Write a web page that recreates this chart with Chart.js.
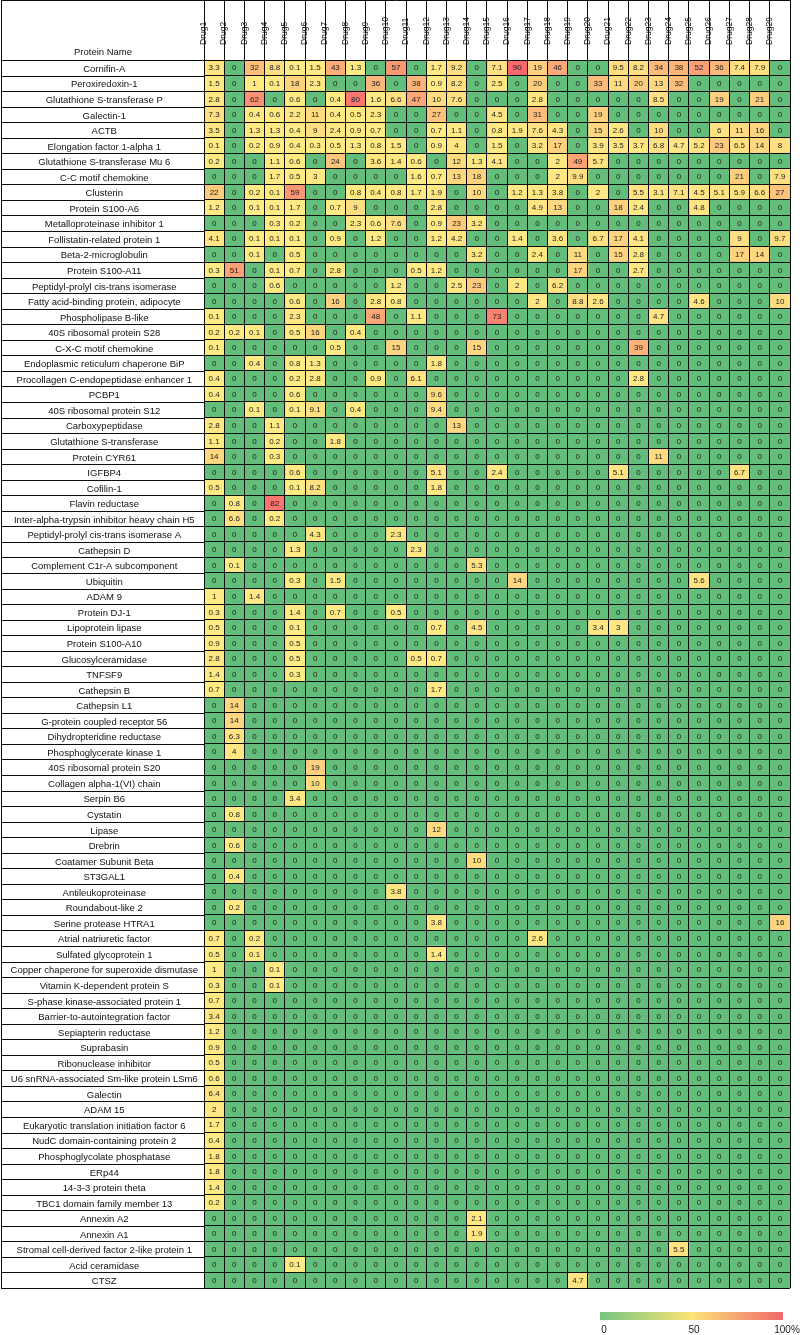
<!DOCTYPE html>
<html>
<head>
<meta charset="utf-8">
<script src="https://cdn.jsdelivr.net/npm/chart.js"></script>
<style>
  html, body { margin: 0; padding: 0; background: #fff; }
</style>
</head>
<body>
<canvas id="heatmap" width="800" height="1335"></canvas>
<script>
const proteins = [
  'Cornifin-A', 'Peroxiredoxin-1', 'Glutathione S-transferase P', 'Galectin-1', 'ACTB',
  'Elongation factor 1-alpha 1', 'Glutathione S-transferase Mu 6', 'C-C motif chemokine', 'Clusterin',
  'Protein S100-A6', 'Metalloproteinase inhibitor 1', 'Follistatin-related protein 1', 'Beta-2-microglobulin',
  'Protein S100-A11', 'Peptidyl-prolyl cis-trans isomerase', 'Fatty acid-binding protein, adipocyte',
  'Phospholipase B-like', '40S ribosomal protein S28', 'C-X-C motif chemokine',
  'Endoplasmic reticulum chaperone BiP', 'Procollagen C-endopeptidase enhancer 1', 'PCBP1',
  '40S ribosomal protein S12', 'Carboxypeptidase', 'Glutathione S-transferase', 'Protein CYR61', 'IGFBP4',
  'Cofilin-1', 'Flavin reductase', 'Inter-alpha-trypsin inhibitor heavy chain H5',
  'Peptidyl-prolyl cis-trans isomerase A', 'Cathepsin D', 'Complement C1r-A subcomponent', 'Ubiquitin',
  'ADAM 9', 'Protein DJ-1', 'Lipoprotein lipase', 'Protein S100-A10', 'Glucosylceramidase', 'TNFSF9',
  'Cathepsin B', 'Cathepsin L1', 'G-protein coupled receptor 56', 'Dihydropteridine reductase',
  'Phosphoglycerate kinase 1', '40S ribosomal protein S20', 'Collagen alpha-1(VI) chain', 'Serpin B6',
  'Cystatin', 'Lipase', 'Drebrin', 'Coatamer Subunit Beta', 'ST3GAL1', 'Antileukoproteinase',
  'Roundabout-like 2', 'Serine protease HTRA1', 'Atrial natriuretic factor', 'Sulfated glycoprotein 1',
  'Copper chaperone for superoxide dismutase', 'Vitamin K-dependent protein S',
  'S-phase kinase-associated protein 1', 'Barrier-to-autointegration factor', 'Sepiapterin reductase',
  'Suprabasin', 'Ribonuclease inhibitor', 'U6 snRNA-associated Sm-like protein LSm6', 'Galectin', 'ADAM 15',
  'Eukaryotic translation initiation factor 6', 'NudC domain-containing protein 2',
  'Phosphoglycolate phosphatase', 'ERp44', '14-3-3 protein theta', 'TBC1 domain family member 13',
  'Annexin A2', 'Annexin A1', 'Stromal cell-derived factor 2-like protein 1', 'Acid ceramidase', 'CTSZ'
];

const drugs = [
  'Drug1', 'Drug2', 'Drug3', 'Drug4', 'Drug5', 'Drug6', 'Drug7', 'Drug8', 'Drug9', 'Drug10',
  'Drug11', 'Drug12', 'Drug13', 'Drug14', 'Drug15', 'Drug16', 'Drug17', 'Drug18', 'Drug19', 'Drug20',
  'Drug21', 'Drug22', 'Drug23', 'Drug24', 'Drug25', 'Drug26', 'Drug27', 'Drug28', 'Drug29'
];

// one row per protein, one value per drug (Drug1..Drug29)
const abundance = [
  [3.3,0,32,8.8,0.1,1.5,43,1.3,0,57,  0,1.7,9.2,0,7.1,90,19,46,0,0,  9.5,8.2,34,38,52,36,7.4,7.9,0],
  [1.5,0,1,0.1,18,2.3,0,0,36,0,  38,0.9,8.2,0,2.5,0,20,0,0,33,  11,20,13,32,0,0,0,0,0],
  [2.8,0,62,0,0.6,0,0.4,80,1.6,6.6,  47,10,7.6,0,0,0,2.8,0,0,0,  0,0,8.5,0,0,19,0,21,0],
  [7.3,0,0.4,0.6,2.2,11,0.4,0.5,2.3,0,  0,27,0,0,4.5,0,31,0,0,19,  0,0,0,0,0,0,0,0,0],
  [3.5,0,1.3,1.3,0.4,9,2.4,0.9,0.7,0,  0,0.7,1.1,0,0.8,1.9,7.6,4.3,0,15,  2.6,0,10,0,0,6,11,16,0],
  [0.1,0,0.2,0.9,0.4,0.3,0.5,1.3,0.8,1.5,  0,0.9,4,0,1.5,0,3.2,17,0,3.9,  3.5,3.7,6.8,4.7,5.2,23,6.5,14,8],
  [0.2,0,0,1.1,0.6,0,24,0,3.6,1.4,  0.6,0,12,1.3,4.1,0,0,2,49,5.7,  0,0,0,0,0,0,0,0,0],
  [0,0,0,1.7,0.5,3,0,0,0,0,  1.6,0.7,13,18,0,0,0,2,9.9,0,  0,0,0,0,0,0,21,0,7.9],
  [22,0,0.2,0.1,59,0,0,0.8,0.4,0.8,  1.7,1.9,0,10,0,1.2,1.3,3.8,0,2,  0,5.5,3.1,7.1,4.5,5.1,5.9,6.6,27],
  [1.2,0,0.1,0.1,1.7,0,0.7,9,0,0,  0,2.8,0,0,0,0,4.9,13,0,0,  18,2.4,0,0,4.8,0,0,0,0],
  [0,0,0,0.3,0.2,0,0,2.3,0.6,7.6,  0,0.9,23,3.2,0,0,0,0,0,0,  0,0,0,0,0,0,0,0,0],
  [4.1,0,0.1,0.1,0.1,0,0.9,0,1.2,0,  0,1.2,4.2,0,0,1.4,0,3.6,0,6.7,  17,4.1,0,0,0,0,9,0,9.7],
  [0,0,0.1,0,0.5,0,0,0,0,0,  0,0,0,3.2,0,0,2.4,0,11,0,  15,2.8,0,0,0,0,17,14,0],
  [0.3,51,0,0.1,0.7,0,2.8,0,0,0,  0.5,1.2,0,0,0,0,0,0,17,0,  0,2.7,0,0,0,0,0,0,0],
  [0,0,0,0.6,0,0,0,0,0,1.2,  0,0,2.5,23,0,2,0,6.2,0,0,  0,0,0,0,0,0,0,0,0],
  [0,0,0,0,0.6,0,16,0,2.8,0.8,  0,0,0,0,0,0,2,0,8.8,2.6,  0,0,0,0,4.6,0,0,0,10],
  [0.1,0,0,0,2.3,0,0,0,48,0,  1.1,0,0,0,73,0,0,0,0,0,  0,0,4.7,0,0,0,0,0,0],
  [0.2,0.2,0.1,0,0.5,16,0,0.4,0,0,  0,0,0,0,0,0,0,0,0,0,  0,0,0,0,0,0,0,0,0],
  [0.1,0,0,0,0,0,0.5,0,0,15,  0,0,0,15,0,0,0,0,0,0,  0,39,0,0,0,0,0,0,0],
  [0,0,0.4,0,0.8,1.3,0,0,0,0,  0,1.8,0,0,0,0,0,0,0,0,  0,0,0,0,0,0,0,0,0],
  [0.4,0,0,0,0.2,2.8,0,0,0.9,0,  6.1,0,0,0,0,0,0,0,0,0,  0,2.8,0,0,0,0,0,0,0],
  [0.4,0,0,0,0.6,0,0,0,0,0,  0,9.6,0,0,0,0,0,0,0,0,  0,0,0,0,0,0,0,0,0],
  [0,0,0.1,0,0.1,9.1,0,0.4,0,0,  0,9.4,0,0,0,0,0,0,0,0,  0,0,0,0,0,0,0,0,0],
  [2.8,0,0,1.1,0,0,0,0,0,0,  0,0,13,0,0,0,0,0,0,0,  0,0,0,0,0,0,0,0,0],
  [1.1,0,0,0.2,0,0,1.8,0,0,0,  0,0,0,0,0,0,0,0,0,0,  0,0,0,0,0,0,0,0,0],
  [14,0,0,0.3,0,0,0,0,0,0,  0,0,0,0,0,0,0,0,0,0,  0,0,11,0,0,0,0,0,0],
  [0,0,0,0,0.6,0,0,0,0,0,  0,5.1,0,0,2.4,0,0,0,0,0,  5.1,0,0,0,0,0,6.7,0,0],
  [0.5,0,0,0,0.1,8.2,0,0,0,0,  0,1.8,0,0,0,0,0,0,0,0,  0,0,0,0,0,0,0,0,0],
  [0,0.8,0,82,0,0,0,0,0,0,  0,0,0,0,0,0,0,0,0,0,  0,0,0,0,0,0,0,0,0],
  [0,6.6,0,0.2,0,0,0,0,0,0,  0,0,0,0,0,0,0,0,0,0,  0,0,0,0,0,0,0,0,0],
  [0,0,0,0,0,4.3,0,0,0,2.3,  0,0,0,0,0,0,0,0,0,0,  0,0,0,0,0,0,0,0,0],
  [0,0,0,0,1.3,0,0,0,0,0,  2.3,0,0,0,0,0,0,0,0,0,  0,0,0,0,0,0,0,0,0],
  [0,0.1,0,0,0,0,0,0,0,0,  0,0,0,5.3,0,0,0,0,0,0,  0,0,0,0,0,0,0,0,0],
  [0,0,0,0,0.3,0,1.5,0,0,0,  0,0,0,0,0,14,0,0,0,0,  0,0,0,0,5.6,0,0,0,0],
  [1,0,1.4,0,0,0,0,0,0,0,  0,0,0,0,0,0,0,0,0,0,  0,0,0,0,0,0,0,0,0],
  [0.3,0,0,0,1.4,0,0.7,0,0,0.5,  0,0,0,0,0,0,0,0,0,0,  0,0,0,0,0,0,0,0,0],
  [0.5,0,0,0,0.1,0,0,0,0,0,  0,0.7,0,4.5,0,0,0,0,0,3.4,  3,0,0,0,0,0,0,0,0],
  [0.9,0,0,0,0.5,0,0,0,0,0,  0,0,0,0,0,0,0,0,0,0,  0,0,0,0,0,0,0,0,0],
  [2.8,0,0,0,0.5,0,0,0,0,0,  0.5,0.7,0,0,0,0,0,0,0,0,  0,0,0,0,0,0,0,0,0],
  [1.4,0,0,0,0.3,0,0,0,0,0,  0,0,0,0,0,0,0,0,0,0,  0,0,0,0,0,0,0,0,0],
  [0.7,0,0,0,0,0,0,0,0,0,  0,1.7,0,0,0,0,0,0,0,0,  0,0,0,0,0,0,0,0,0],
  [0,14,0,0,0,0,0,0,0,0,  0,0,0,0,0,0,0,0,0,0,  0,0,0,0,0,0,0,0,0],
  [0,14,0,0,0,0,0,0,0,0,  0,0,0,0,0,0,0,0,0,0,  0,0,0,0,0,0,0,0,0],
  [0,6.3,0,0,0,0,0,0,0,0,  0,0,0,0,0,0,0,0,0,0,  0,0,0,0,0,0,0,0,0],
  [0,4,0,0,0,0,0,0,0,0,  0,0,0,0,0,0,0,0,0,0,  0,0,0,0,0,0,0,0,0],
  [0,0,0,0,0,19,0,0,0,0,  0,0,0,0,0,0,0,0,0,0,  0,0,0,0,0,0,0,0,0],
  [0,0,0,0,0,10,0,0,0,0,  0,0,0,0,0,0,0,0,0,0,  0,0,0,0,0,0,0,0,0],
  [0,0,0,0,3.4,0,0,0,0,0,  0,0,0,0,0,0,0,0,0,0,  0,0,0,0,0,0,0,0,0],
  [0,0.8,0,0,0,0,0,0,0,0,  0,0,0,0,0,0,0,0,0,0,  0,0,0,0,0,0,0,0,0],
  [0,0,0,0,0,0,0,0,0,0,  0,12,0,0,0,0,0,0,0,0,  0,0,0,0,0,0,0,0,0],
  [0,0.6,0,0,0,0,0,0,0,0,  0,0,0,0,0,0,0,0,0,0,  0,0,0,0,0,0,0,0,0],
  [0,0,0,0,0,0,0,0,0,0,  0,0,0,10,0,0,0,0,0,0,  0,0,0,0,0,0,0,0,0],
  [0,0.4,0,0,0,0,0,0,0,0,  0,0,0,0,0,0,0,0,0,0,  0,0,0,0,0,0,0,0,0],
  [0,0,0,0,0,0,0,0,0,3.8,  0,0,0,0,0,0,0,0,0,0,  0,0,0,0,0,0,0,0,0],
  [0,0.2,0,0,0,0,0,0,0,0,  0,0,0,0,0,0,0,0,0,0,  0,0,0,0,0,0,0,0,0],
  [0,0,0,0,0,0,0,0,0,0,  0,3.8,0,0,0,0,0,0,0,0,  0,0,0,0,0,0,0,0,16],
  [0.7,0,0.2,0,0,0,0,0,0,0,  0,0,0,0,0,0,2.6,0,0,0,  0,0,0,0,0,0,0,0,0],
  [0.5,0,0.1,0,0,0,0,0,0,0,  0,1.4,0,0,0,0,0,0,0,0,  0,0,0,0,0,0,0,0,0],
  [1,0,0,0.1,0,0,0,0,0,0,  0,0,0,0,0,0,0,0,0,0,  0,0,0,0,0,0,0,0,0],
  [0.3,0,0,0.1,0,0,0,0,0,0,  0,0,0,0,0,0,0,0,0,0,  0,0,0,0,0,0,0,0,0],
  [0.7,0,0,0,0,0,0,0,0,0,  0,0,0,0,0,0,0,0,0,0,  0,0,0,0,0,0,0,0,0],
  [3.4,0,0,0,0,0,0,0,0,0,  0,0,0,0,0,0,0,0,0,0,  0,0,0,0,0,0,0,0,0],
  [1.2,0,0,0,0,0,0,0,0,0,  0,0,0,0,0,0,0,0,0,0,  0,0,0,0,0,0,0,0,0],
  [0.9,0,0,0,0,0,0,0,0,0,  0,0,0,0,0,0,0,0,0,0,  0,0,0,0,0,0,0,0,0],
  [0.5,0,0,0,0,0,0,0,0,0,  0,0,0,0,0,0,0,0,0,0,  0,0,0,0,0,0,0,0,0],
  [0.6,0,0,0,0,0,0,0,0,0,  0,0,0,0,0,0,0,0,0,0,  0,0,0,0,0,0,0,0,0],
  [6.4,0,0,0,0,0,0,0,0,0,  0,0,0,0,0,0,0,0,0,0,  0,0,0,0,0,0,0,0,0],
  [2,0,0,0,0,0,0,0,0,0,  0,0,0,0,0,0,0,0,0,0,  0,0,0,0,0,0,0,0,0],
  [1.7,0,0,0,0,0,0,0,0,0,  0,0,0,0,0,0,0,0,0,0,  0,0,0,0,0,0,0,0,0],
  [0.4,0,0,0,0,0,0,0,0,0,  0,0,0,0,0,0,0,0,0,0,  0,0,0,0,0,0,0,0,0],
  [1.8,0,0,0,0,0,0,0,0,0,  0,0,0,0,0,0,0,0,0,0,  0,0,0,0,0,0,0,0,0],
  [1.8,0,0,0,0,0,0,0,0,0,  0,0,0,0,0,0,0,0,0,0,  0,0,0,0,0,0,0,0,0],
  [1.4,0,0,0,0,0,0,0,0,0,  0,0,0,0,0,0,0,0,0,0,  0,0,0,0,0,0,0,0,0],
  [0.2,0,0,0,0,0,0,0,0,0,  0,0,0,0,0,0,0,0,0,0,  0,0,0,0,0,0,0,0,0],
  [0,0,0,0,0,0,0,0,0,0,  0,0,0,2.1,0,0,0,0,0,0,  0,0,0,0,0,0,0,0,0],
  [0,0,0,0,0,0,0,0,0,0,  0,0,0,1.9,0,0,0,0,0,0,  0,0,0,0,0,0,0,0,0],
  [0,0,0,0,0,0,0,0,0,0,  0,0,0,0,0,0,0,0,0,0,  0,0,0,5.5,0,0,0,0,0],
  [0,0,0,0,0.1,0,0,0,0,0,  0,0,0,0,0,0,0,0,0,0,  0,0,0,0,0,0,0,0,0],
  [0,0,0,0,0,0,0,0,0,0,  0,0,0,0,0,0,0,0,4.7,0,  0,0,0,0,0,0,0,0,0]
];

const legendTicks = ['0', '50', '100%'];

const LINE = '#0d0d0d';
const labelFont = "'Liberation Sans', Arial, sans-serif";
const maxValue = Math.max(...abundance.flat());

// Excel-like 3-colour scale: zero is green, any positive value goes yellow -> red
function cellColor(v) {
    if (v <= 0) return 'rgb(99,190,123)';
    const t = Math.min(v / maxValue, 1);
    const r = Math.round(255 + (248 - 255) * t);
    const g = Math.round(235 + (105 - 235) * t);
    const b = Math.round(132 + (107 - 132) * t);
    return `rgb(${r},${g},${b})`;
}

const datasets = drugs.map((drug, j) => ({
    label: drug,
    xAxisID: 'x',
    yAxisID: 'y',
    data: proteins.map((p, i) => ({ y: p, x: [j, j + 1], v: abundance[i][j] })),
    backgroundColor: abundance.map(row => cellColor(row[j])),
    borderWidth: 0,
    grouped: false,
    barPercentage: 1,
    categoryPercentage: 1
}));

// numbers inside the cells
const cellText = {
    id: 'cellText',
    afterDatasetsDraw(chart) {
        const ctx = chart.ctx;
        ctx.save();
        ctx.font = `8px ${labelFont}`;
        ctx.fillStyle = '#1c1c1c';
        ctx.textAlign = 'center';
        ctx.textBaseline = 'middle';
        chart.data.datasets.forEach((ds, j) => {
            chart.getDatasetMeta(j).data.forEach((bar, i) => {
                const c = bar.getCenterPoint();
                ctx.fillText(String(ds.data[i].v), c.x, c.y + 0.5);
            });
        });
        ctx.restore();
    }
};

// label column borders, header caption and colour legend
const tableFrame = {
    id: 'tableFrame',
    afterDraw(chart) {
        const ctx = chart.ctx;
        const area = chart.chartArea;
        const yScale = chart.scales.y;
        const step = (yScale.bottom - yScale.top) / proteins.length;
        ctx.save();
        ctx.strokeStyle = LINE;
        ctx.lineWidth = 1;
        ctx.beginPath();
        for (let i = 0; i <= proteins.length; i++) {
            const y = Math.round(yScale.top + i * step) + 0.5;
            ctx.moveTo(1, y);
            ctx.lineTo(area.left, y);
        }
        ctx.moveTo(1.5, 0.5);
        ctx.lineTo(1.5, yScale.bottom);
        ctx.moveTo(1, 0.5);
        ctx.lineTo(area.right, 0.5);
        ctx.moveTo(area.left + 0.5, 0);
        ctx.lineTo(area.left + 0.5, area.bottom);
        ctx.stroke();

        ctx.fillStyle = '#111';
        ctx.font = `9.5px ${labelFont}`;
        ctx.textAlign = 'center';
        ctx.textBaseline = 'middle';
        ctx.fillText('Protein Name', 103, 52);

        // legend bar
        const lx0 = 600, lx1 = 783, ly = 1312, lh = 8;
        const grad = ctx.createLinearGradient(lx0, 0, lx1, 0);
        grad.addColorStop(0, 'rgb(118,196,128)');
        grad.addColorStop(0.5, 'rgb(250,228,120)');
        grad.addColorStop(1, 'rgb(240,104,108)');
        ctx.fillStyle = grad;
        ctx.fillRect(lx0, ly, lx1 - lx0, lh);
        ctx.fillStyle = '#222';
        ctx.font = `10px ${labelFont}`;
        const pos = [604, 694, 787];
        legendTicks.forEach((t, k) => ctx.fillText(t, pos[k], 1330));
        ctx.restore();
    }
};

new Chart(document.getElementById('heatmap'), {
    type: 'bar',
    data: { labels: proteins, datasets },
    options: {
        indexAxis: 'y',
        responsive: false,
        animation: false,
        devicePixelRatio: 1,
        layout: { padding: { left: 0, right: 10, top: 0, bottom: 47 } },
        plugins: {
            legend: { display: false },
            tooltip: { enabled: false },
            title: { display: false }
        },
        scales: {
            x: { type: 'linear', min: 0, max: drugs.length, display: false },
            x2: {
                type: 'category',
                labels: drugs,
                position: 'top',
                offset: true,
                grid: { offset: true, z: 1, color: LINE, lineWidth: 1, drawTicks: true, tickLength: 60, tickColor: LINE },
                border: { display: false },
                ticks: {
                    autoSkip: false,
                    minRotation: 90,
                    maxRotation: 90,
                    padding: -45,
                    color: '#111',
                    font: { family: labelFont, size: 8.5 }
                },
                afterFit: s => { s.height = 60; }
            },
            y: {
                type: 'category',
                offset: true,
                grid: { offset: true, z: 1, color: LINE, lineWidth: 1, drawTicks: false },
                border: { display: false },
                ticks: {
                    autoSkip: false,
                    crossAlign: 'center',
                    padding: 6,
                    labelOffset: 1.5,
                    color: '#111',
                    font: { family: labelFont, size: 9.5 }
                },
                afterFit: s => { s.width = 204; }
            }
        }
    },
    plugins: [cellText, tableFrame]
});
</script>
</body>
</html>
